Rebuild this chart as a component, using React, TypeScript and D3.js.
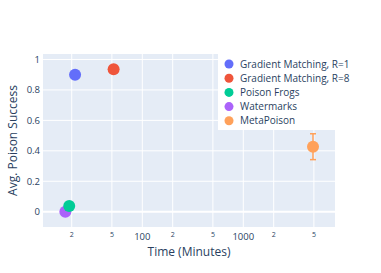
import React from "react";
import * as d3 from "d3";

const seriesNames = ["Gradient Matching, R=1", "Gradient Matching, R=8", "Poison Frogs", "Watermarks", "MetaPoison"];
const seriesColors = ["#636EFA", "#EF553B", "#00CC96", "#AB63FA", "#FFA15A"];
const timeMinutes = [21.6, 52, 18.9, 17.3, 4900];
const successValues = [0.9, 0.936, 0.037, 0.0, 0.427];
const successErrors = [0.022, 0.006, 0.0, 0.0, 0.085];
const yTicks = [0, 0.2, 0.4, 0.6, 0.8, 1];
const xMajorTicks = [100, 1000];
const xMinorTicks = [20, 50, 200, 500, 2000, 5000];

const W = 381, H = 273;
const L = 43, R = 335, T = 54, B = 227;
const FONT = "'Open Sans', sans-serif";
const TXT = "#2a3f5f";

export default function App() {
  const x = d3.scaleLog().domain([Math.pow(10, 1.0168), Math.pow(10, 3.908)]).range([L, R]);
  const y = d3.scaleLinear().domain([-0.1005, 1.036]).range([B, T]);
  const order = [4, 3, 2, 1, 0];
  return (
    <svg width={W} height={H} style={{ position: "absolute", left: 0, top: 0 }} fontFamily={FONT}>
      <rect x={0} y={0} width={W} height={H} fill="#fff" />
      <rect x={L} y={T} width={R - L} height={B - T} fill="#E5ECF6" />
      {yTicks.map((t) => (
        <line key={"gy" + t} x1={L} x2={R} y1={y(t)} y2={y(t)} stroke="#fff" strokeWidth={t === 0 ? 2 : 1} />
      ))}
      {[...xMinorTicks, ...xMajorTicks].map((t) => (
        <line key={"gx" + t} x1={x(t)} x2={x(t)} y1={T} y2={B} stroke="#fff" strokeWidth={1} />
      ))}
      {yTicks.map((t) => (
        <text key={"ty" + t} x={L - 3} y={y(t)} dy="0.35em" textAnchor="end" fontSize={9.5} fill={TXT}>
          {String(t)}
        </text>
      ))}
      {xMajorTicks.map((t) => (
        <text key={"tx" + t} x={x(t)} y={B + 10} dy="0.35em" textAnchor="middle" fontSize={9.5} fill={TXT}>
          {String(t)}
        </text>
      ))}
      {xMinorTicks.map((t) => (
        <text key={"tm" + t} x={x(t)} y={B + 8} dy="0.35em" textAnchor="middle" fontSize={7} fill={TXT}>
          {String(t).charAt(0)}
        </text>
      ))}
      <text x={(L + R) / 2} y={252} dy="0.35em" textAnchor="middle" fontSize={12} fill={TXT}>
        Time (Minutes)
      </text>
      <text transform={`translate(13,${(T + B) / 2}) rotate(-90)`} dy="0.35em" textAnchor="middle" fontSize={12} fill={TXT}>
        Avg. Poison Success
      </text>
      {order.map((i) => {
        const cx = x(timeMinutes[i]);
        const cy = y(successValues[i]);
        const e = successErrors[i];
        return (
          <g key={"p" + i}>
            {e > 0 && (
              <g stroke={seriesColors[i]} strokeWidth={1.5}>
                <line x1={cx} x2={cx} y1={y(successValues[i] + e)} y2={y(successValues[i] - e)} />
                <line x1={cx - 3} x2={cx + 3} y1={y(successValues[i] + e)} y2={y(successValues[i] + e)} />
                <line x1={cx - 3} x2={cx + 3} y1={y(successValues[i] - e)} y2={y(successValues[i] - e)} />
              </g>
            )}
            <circle cx={cx} cy={cy} r={6} fill={seriesColors[i]} />
          </g>
        );
      })}
      <rect x={218} y={53} width={163} height={77} fill="#fff" />
      {seriesNames.map((n, i) => (
        <g key={"lg" + i} transform={`translate(229,${64 + i * 14.2})`}>
          <circle cx={0} cy={0} r={4.5} fill={seriesColors[i]} />
          <text x={11} y={0} dy="0.35em" fontSize={10} fill={TXT}>
            {n}
          </text>
        </g>
      ))}
    </svg>
  );
}
